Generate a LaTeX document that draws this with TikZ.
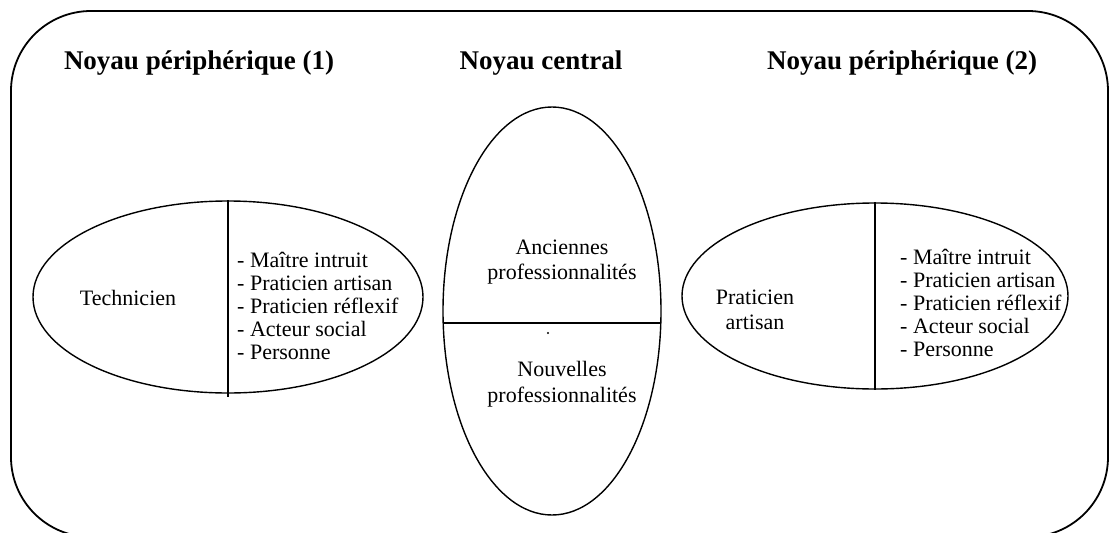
\documentclass[tikz,border=0pt]{standalone}
\usepackage{fontspec}
\setmainfont{Liberation Serif}
\usetikzlibrary{shapes.geometric,calc}
\begin{document}
\begin{tikzpicture}[x=1pt,y=-1pt,
  frame/.style={line width=1.8pt, rounded corners=80pt},
  oval/.style={draw, ellipse, line width=1.4pt, inner sep=0pt},
  head/.style={font=\fontsize{27}{31}\selectfont\bfseries, inner sep=0pt},
  body/.style={font=\fontsize{22}{25.5}\selectfont, inner sep=0pt, align=center},
  list/.style={font=\fontsize{22}{23}\selectfont, inner sep=0pt, align=left},
  divider/.style={line width=1.4pt}]
\useasboundingbox (0,0) rectangle (1109,533);
\clip (0,0) rectangle (1109,533);
% outer frame, its lower edge runs off the page
\draw[frame] (11,11) rectangle (1108,537);

% column headings
\node[head] (h1) at (199,63) {Noyau périphérique (1)};
\node[head] (h2) at (541,63) {Noyau central};
\node[head] (h3) at (902,63) {Noyau périphérique (2)};

% the three cores
\node[oval, minimum width=390, minimum height=192] (leftoval) at (228,297) {};
\node[oval, minimum width=218, minimum height=408] (midoval) at (552,311) {};
\node[oval, minimum width=386, minimum height=186] (rightoval) at (875,296) {};

% dividers
\draw[divider] (leftoval.north) -- ($(leftoval.south)+(0,3)$);
\draw[divider] (rightoval.north) -- (rightoval.south);
\draw[divider] ($(midoval.center)+(-108.8,12)$) -- ($(midoval.center)+(108.8,12)$);
\node[circle, fill, inner sep=0pt, minimum size=2.2pt] (dot) at (548,333) {};

% left core
\node[body] (tech) at (128,298) {Technicien};
\node[list, anchor=west] (leftlist) at (237,306) {- Maître intruit\\- Praticien artisan\\- Praticien réflexif\\- Acteur social\\- Personne};

% central core
\node[body] (anc) at (562,262) {Anciennes\\professionnalités};
\node[body] (nouv) at (562,384) {Nouvelles\\professionnalités};

% right core
\node[body] (prat) at (755,310) {Praticien\\artisan};
\node[list, anchor=west] (rightlist) at (900,303) {- Maître intruit\\- Praticien artisan\\- Praticien réflexif\\- Acteur social\\- Personne};
\end{tikzpicture}
\end{document}
